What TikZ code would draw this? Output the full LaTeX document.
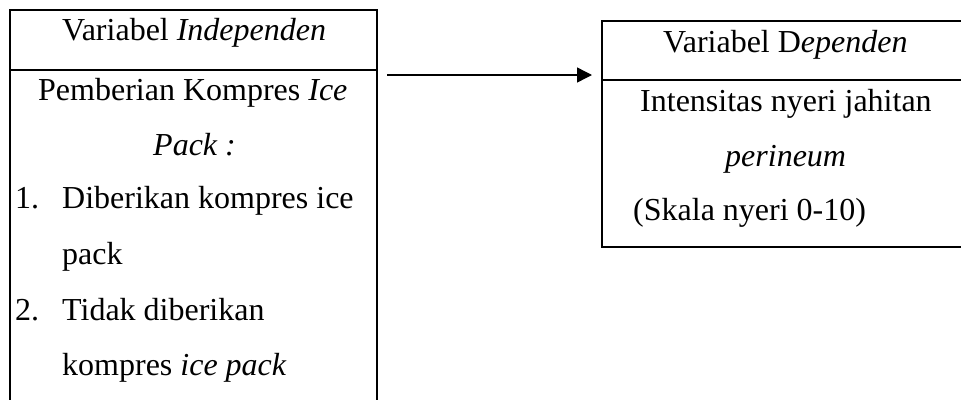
\documentclass[tikz,border=0pt]{standalone}
\usepackage{fontspec}
\setmainfont{Liberation Serif}
\usetikzlibrary{arrows.meta}
\begin{document}
\begin{tikzpicture}[x=1pt,y=-1pt,
  frame/.style={line width=1.8pt,black},
  txt/.style={anchor=base west,inner sep=0pt,font=\fontsize{32}{36}\selectfont},
  link/.style={line width=1.4pt,-{Triangle[length=15pt,width=15pt]}}]
\useasboundingbox (0,0) rectangle (961,399);
% left box
\coordinate (LTL) at (10,10);
\coordinate (LTR) at (377,10);
\coordinate (LBL) at (10,405);
\coordinate (LBR) at (377,405);
\coordinate (LDL) at (10,70);
\coordinate (LDR) at (377,70);
\draw[frame] (LBL) -- (LTL) -- (LTR) -- (LBR);
\draw[frame] (LDL) -- (LDR);
% right box
\coordinate (RTL) at (602,21);
\coordinate (RTR) at (966,21);
\coordinate (RBL) at (602,247);
\coordinate (RBR) at (966,247);
\coordinate (RDL) at (602,80);
\coordinate (RDR) at (966,80);
\draw[frame] (RTR) -- (RTL) -- (RBL) -- (RBR);
\draw[frame] (RDL) -- (RDR);
% arrow
\coordinate (A1) at (387,75);
\coordinate (A2) at (592,75);
\draw[link] (A1) -- (A2);
% left texts
\node[txt] (l1) at (62,40) {Variabel \textit{Independen}};
\node[txt] (l2) at (38,100) {Pemberian Kompres \textit{Ice}};
\node[txt] (l3) at (153,155) {\textit{Pack :}};
\node[txt] (n1) at (15,208) {1.};
\node[txt] (l4) at (62,208) {Diberikan kompres ice};
\node[txt] (l5) at (62,264) {pack};
\node[txt] (n2) at (15,320) {2.};
\node[txt] (l6) at (62,320) {Tidak diberikan};
\node[txt] (l7) at (62,375) {kompres \textit{ice pack}};
% right texts
\node[txt] (r1) at (663,52) {Variabel D\textit{ependen}};
\node[txt] (r2) at (640,111) {Intensitas nyeri jahitan};
\node[txt] (r3) at (725,166) {\textit{perineum}};
\node[txt] (r4) at (633,220) {(Skala nyeri 0-10)};
\end{tikzpicture}
\end{document}
